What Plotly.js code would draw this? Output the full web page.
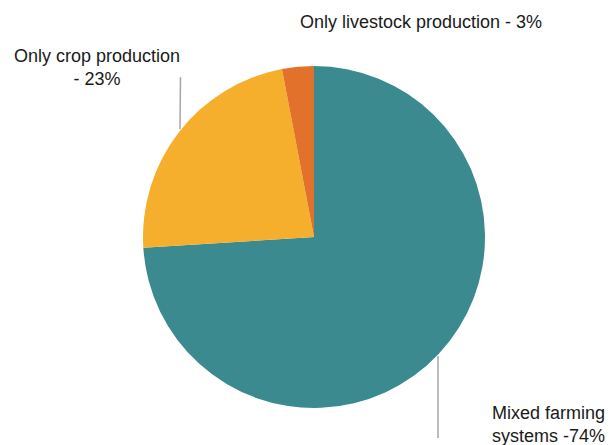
<!DOCTYPE html>
<html>
<head>
<meta charset="utf-8">
<script src="https://cdn.plot.ly/plotly-3.0.1.min.js"></script>
<style>html,body{margin:0;padding:0;background:#fff;}#chart{width:613px;height:445px;}</style>
</head>
<body>
<div id="chart"></div>
<script>
// Data
const categories = ["Mixed farming systems", "Only crop production", "Only livestock production"];
const shares = [74, 23, 3];
const displayLabels = ["Mixed farming<br>systems -74%", "Only crop production<br>- 23%", "Only livestock production - 3%"];
const sliceColors = ["#3B8A8F", "#F6AE2D", "#E2722B"];

const W = 613, H = 445;
const px = x => x / W;
const py = y => 1 - y / H;

const trace = {
  type: "pie",
  labels: categories,
  values: shares,
  sort: false,
  direction: "clockwise",
  rotation: 0,
  textinfo: "none",
  hoverinfo: "label+percent",
  marker: { colors: sliceColors, line: { width: 0 } },
  domain: { x: [px(142), px(486)], y: [py(408), py(66)] },
  showlegend: false
};

const labelPos = [
  { x: 548, y: 424 },
  { x: 97, y: 67 },
  { x: 421, y: 22 }
];

const annotations = displayLabels.map((t, i) => ({
  text: t,
  xref: "paper", yref: "paper",
  x: px(labelPos[i].x), y: py(labelPos[i].y),
  xanchor: "center", yanchor: "middle",
  align: "center",
  showarrow: false,
  font: { family: "Liberation Sans, Arial, sans-serif", size: 18, color: "#1a1a1a" }
}));

const leader = { type: "line", xref: "paper", yref: "paper", line: { color: "#A6A6A6", width: 1.5 } };
const shapes = [
  Object.assign({}, leader, { x0: px(180.5), y0: py(77), x1: px(180), y1: py(129) }),
  Object.assign({}, leader, { x0: px(438), y0: py(356), x1: px(438), y1: py(438) })
];

const layout = {
  width: W, height: H,
  margin: { l: 0, r: 0, t: 0, b: 0 },
  paper_bgcolor: "#ffffff",
  annotations: annotations,
  shapes: shapes
};

Plotly.newPlot("chart", [trace], layout, { displayModeBar: false, staticPlot: true });
</script>
</body>
</html>
